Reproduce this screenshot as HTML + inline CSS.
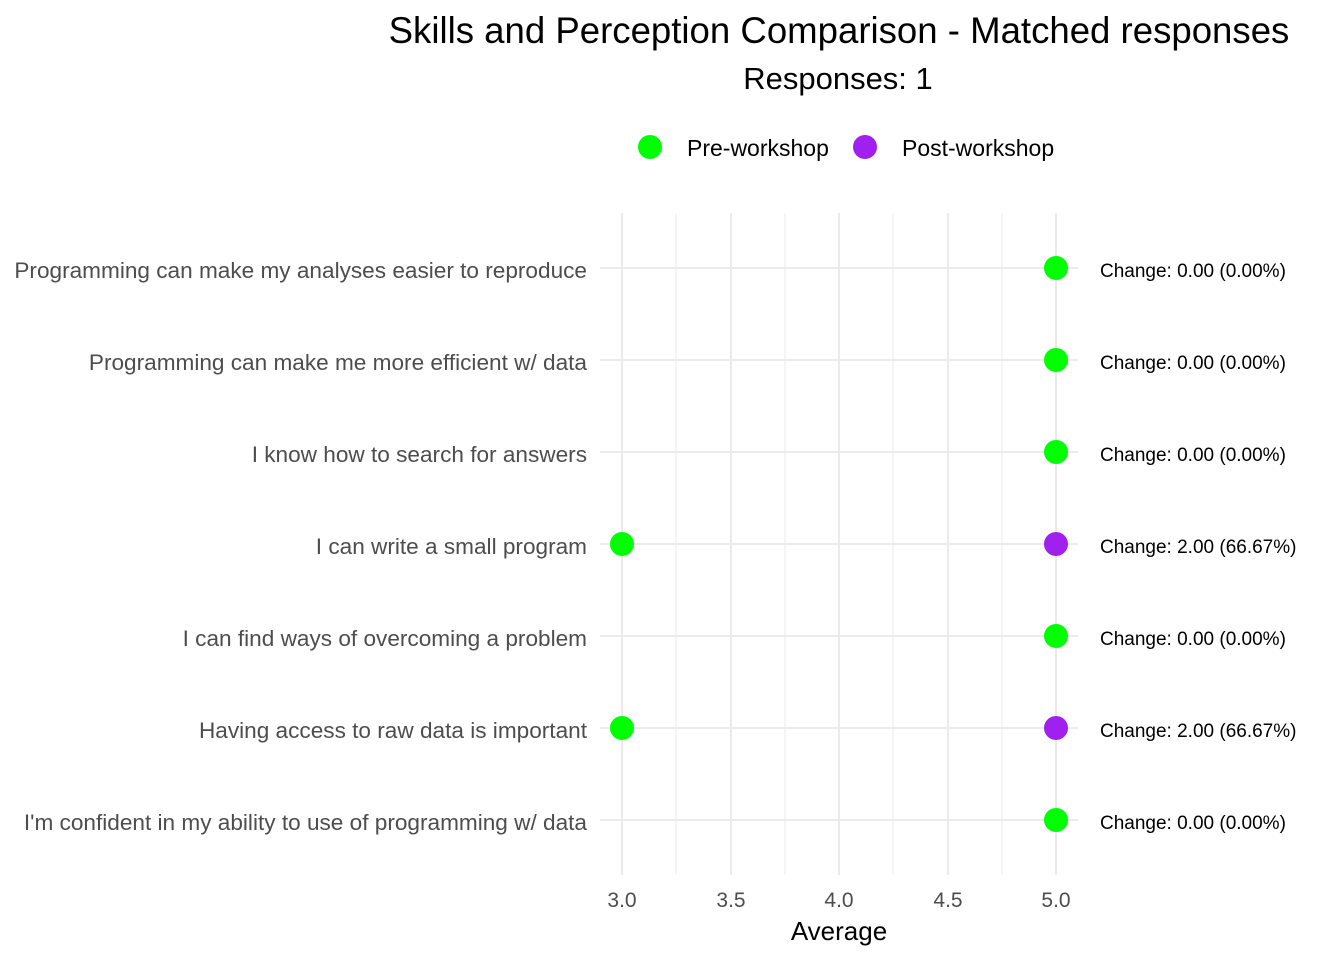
<!DOCTYPE html>
<html><head><meta charset="utf-8"><style>
html,body{margin:0;padding:0;background:#fff;}
svg{display:block;font-family:"Liberation Sans",Arial,sans-serif;}
</style></head><body>
<svg width="1344" height="960" viewBox="0 0 1344 960" xmlns="http://www.w3.org/2000/svg">
<rect width="1344" height="960" fill="#fff"/>
<text x="839" y="43" font-size="36.6" text-anchor="middle" fill="#000">Skills and Perception Comparison - Matched responses</text>
<text x="838" y="89" font-size="31" text-anchor="middle" fill="#000">Responses: 1</text>
<circle cx="650" cy="147" r="12" fill="#00FF00"/>
<text x="687" y="156" font-size="23" fill="#000">Pre-workshop</text>
<circle cx="865" cy="147" r="12" fill="#A020F0"/>
<text x="902" y="156" font-size="23" fill="#000">Post-workshop</text>
<g stroke="#ebebeb" stroke-width="1">
<line x1="676" y1="213" x2="676" y2="875"/><line x1="785" y1="213" x2="785" y2="875"/>
<line x1="893" y1="213" x2="893" y2="875"/><line x1="1002" y1="213" x2="1002" y2="875"/>
</g>
<g stroke="#ebebeb" stroke-width="2">
<line x1="622" y1="213" x2="622" y2="875"/><line x1="731" y1="213" x2="731" y2="875"/>
<line x1="839" y1="213" x2="839" y2="875"/><line x1="948" y1="213" x2="948" y2="875"/>
<line x1="1056" y1="213" x2="1056" y2="875"/>
<line x1="600" y1="268" x2="1078" y2="268"/><line x1="600" y1="360" x2="1078" y2="360"/>
<line x1="600" y1="452" x2="1078" y2="452"/><line x1="600" y1="544" x2="1078" y2="544"/>
<line x1="600" y1="636" x2="1078" y2="636"/><line x1="600" y1="728" x2="1078" y2="728"/>
<line x1="600" y1="820" x2="1078" y2="820"/>
</g>
<g font-size="22.6" fill="#4d4d4d" text-anchor="end">
<text x="587" y="278">Programming can make my analyses easier to reproduce</text>
<text x="587" y="370">Programming can make me more efficient w/ data</text>
<text x="587" y="462">I know how to search for answers</text>
<text x="587" y="554">I can write a small program</text>
<text x="587" y="646">I can find ways of overcoming a problem</text>
<text x="587" y="738">Having access to raw data is important</text>
<text x="587" y="830">I'm confident in my ability to use of programming w/ data</text>
</g>
<g>
<circle cx="1056" cy="268" r="12" fill="#00FF00"/>
<circle cx="1056" cy="360" r="12" fill="#00FF00"/>
<circle cx="1056" cy="452" r="12" fill="#00FF00"/>
<circle cx="622" cy="544" r="12" fill="#00FF00"/>
<circle cx="1056" cy="544" r="12" fill="#A020F0"/>
<circle cx="1056" cy="636" r="12" fill="#00FF00"/>
<circle cx="622" cy="728" r="12" fill="#00FF00"/>
<circle cx="1056" cy="728" r="12" fill="#A020F0"/>
<circle cx="1056" cy="820" r="12" fill="#00FF00"/>
</g>
<g font-size="19" fill="#000">
<text x="1100" y="277">Change: 0.00 (0.00%)</text>
<text x="1100" y="369">Change: 0.00 (0.00%)</text>
<text x="1100" y="461">Change: 0.00 (0.00%)</text>
<text x="1100" y="553">Change: 2.00 (66.67%)</text>
<text x="1100" y="645">Change: 0.00 (0.00%)</text>
<text x="1100" y="737">Change: 2.00 (66.67%)</text>
<text x="1100" y="829">Change: 0.00 (0.00%)</text>
</g>
<g font-size="21" fill="#4d4d4d" text-anchor="middle">
<text x="622" y="907">3.0</text><text x="731" y="907">3.5</text><text x="839" y="907">4.0</text>
<text x="948" y="907">4.5</text><text x="1056" y="907">5.0</text>
</g>
<text x="839" y="940" font-size="26" text-anchor="middle" fill="#000">Average</text>
</svg>
</body></html>
